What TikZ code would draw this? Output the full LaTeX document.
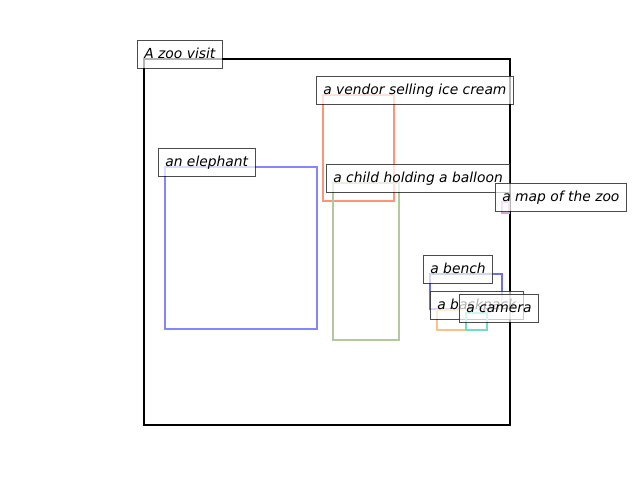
\documentclass[tikz,border=0pt]{standalone}
\usepackage{fontspec}
\setmainfont{DejaVu Sans}
\usetikzlibrary{positioning}
\definecolor{zooblack}{HTML}{000000}
\definecolor{vendorsalmon}{HTML}{FF9478}
\definecolor{elephantblue}{HTML}{8585FF}
\definecolor{childgreen}{HTML}{B4C8A0}
\definecolor{mapplum}{HTML}{D2A8D2}
\definecolor{benchslate}{HTML}{7070DC}
\definecolor{backpackorange}{HTML}{FFC184}
\definecolor{cameraturq}{HTML}{70DCC8}
\tikzset{
  region/.style={line width=1.5pt},
  tag/.style={anchor=base west,draw=black,draw opacity=.7,fill=white,fill opacity=.7,text opacity=1,font=\itshape,inner xsep=5pt,inner ysep=4pt,text height=9.7pt,text depth=2.5pt,line width=.6pt},
}
\begin{document}
\begin{tikzpicture}[x=0.01in,y=-0.01in]
    \useasboundingbox (0,0) rectangle (640,480);
    % scene and objects, each followed by its tag
    \draw[region,zooblack] (144,59) rectangle (510,425);
    \node[tag] (zoo) at (137,59) {A zoo visit};
    \draw[region,vendorsalmon] (323,95) rectangle (394,201);
    \node[tag] (vendor) at (316,95) {a vendor selling ice cream};
    \draw[region,elephantblue] (165,167) rectangle (317,329);
    \node[tag] (elephant) at (158,167) {an elephant};
    \draw[region,childgreen] (333,183) rectangle (399,340);
    \node[tag] (child) at (326,183) {a child holding a balloon};
    \draw[region,mapplum] (502,202) rectangle (509,213);
    \node[tag] (map) at (495,202) {a map of the zoo};
    \draw[region,benchslate] (430,274) rectangle (502,309);
    \node[tag] (bench) at (423,274) {a bench};
    \draw[region,backpackorange] (437,310) rectangle (466,330);
    \node[tag] (backpack) at (430,310) {a backpack};
    \draw[region,cameraturq] (466,313) rectangle (487,330);
    \node[tag] (camera) at (459,313) {a camera};
\end{tikzpicture}
\end{document}
